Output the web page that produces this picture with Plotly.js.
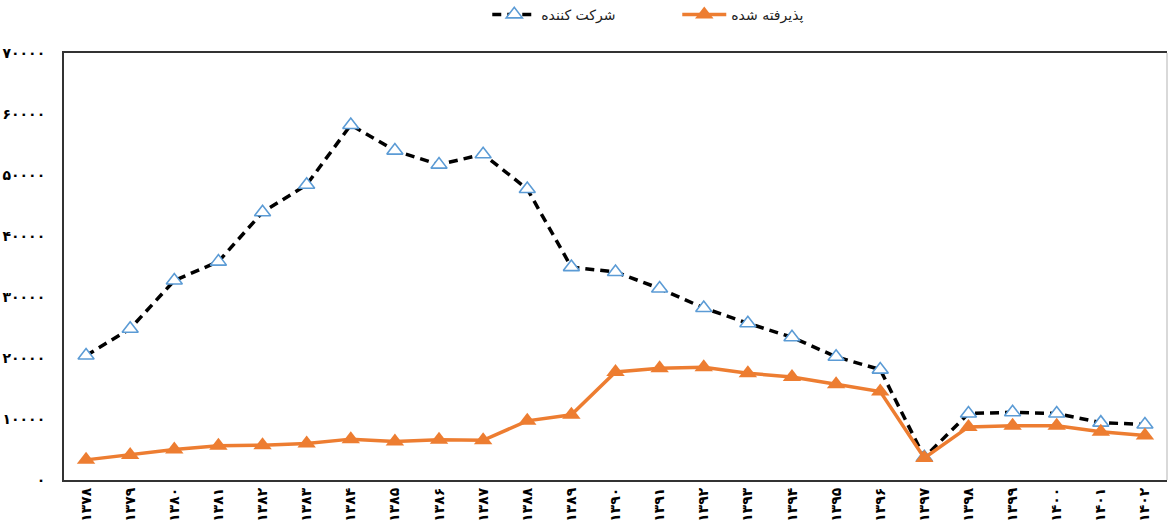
<!DOCTYPE html>
<html>
<head>
<meta charset="utf-8">
<script src="https://cdn.plot.ly/plotly-3.0.1.min.js"></script>
<style>html,body{margin:0;padding:0;background:#fff;}#chart{width:1169px;height:528px;}</style>
</head>
<body>
<div id="chart"></div>
<script>
// Years (Persian calendar) shown as tick labels
const years = ['۱۳۷۸','۱۳۷۹','۱۳۸۰','۱۳۸۱','۱۳۸۲','۱۳۸۳','۱۳۸۴','۱۳۸۵','۱۳۸۶','۱۳۸۷','۱۳۸۸','۱۳۸۹','۱۳۹۰','۱۳۹۱','۱۳۹۲','۱۳۹۳','۱۳۹۴','۱۳۹۵','۱۳۹۶','۱۳۹۷','۱۳۹۸','۱۳۹۹','۱۴۰۰','۱۴۰۱','۱۴۰۲'];
// Participants
const participants = [20400, 24800, 32700, 35800, 43900, 48400, 58200, 54000, 51700, 53400, 47700, 34900, 34100, 31400, 28200, 25700, 23400, 20200, 18100, 3700, 10900, 11100, 10900, 9400, 9100];
// Admitted
const admitted = [3300, 4100, 5000, 5600, 5700, 6000, 6700, 6300, 6600, 6500, 9700, 10700, 17700, 18300, 18500, 17500, 16900, 15700, 14500, 3600, 8700, 8900, 8900, 7900, 7300];
const seriesNames = ['شرکت کننده', 'پذیرفته شده'];
const yTickVals = [0, 10000, 20000, 30000, 40000, 50000, 60000, 70000];
const yTickText = ['۰', '۱۰۰۰۰', '۲۰۰۰۰', '۳۰۰۰۰', '۴۰۰۰۰', '۵۰۰۰۰', '۶۰۰۰۰', '۷۰۰۰۰'];

const idx = years.map((_, i) => i);
const font = 'DejaVu Sans, Noto Sans, sans-serif';

const traces = [
  {
    x: idx, y: participants, name: seriesNames[0], type: 'scatter', mode: 'lines+markers',
    line: {color: '#000000', width: 3.5, dash: '9px,6px'},
    marker: {symbol: 'triangle-up', size: 14, color: '#ffffff', line: {color: '#5B9BD5', width: 1.6}}
  },
  {
    x: idx, y: admitted, name: seriesNames[1], type: 'scatter', mode: 'lines+markers',
    line: {color: '#ED7D31', width: 3.5},
    marker: {symbol: 'triangle-up', size: 16, color: '#ED7D31', line: {width: 0}}
  }
];

const layout = {
  width: 1169, height: 528,
  margin: {l: 64, r: 2, t: 53, b: 48},
  paper_bgcolor: '#ffffff', plot_bgcolor: '#ffffff',
  font: {family: font, color: '#000000', size: 13},
  showlegend: true,
  legend: {
    orientation: 'h', xref: 'paper', x: 0.556, xanchor: 'center',
    yref: 'container', y: 0.972, yanchor: 'middle',
    font: {family: font, size: 14, color: '#222'}, entrywidth: 131, itemwidth: 44
  },
  xaxis: {
    type: 'linear', range: [-0.5, 24.5],
    tickmode: 'array', tickvals: idx, ticktext: years, tickangle: -90,
    tickfont: {family: font, size: 14, color: '#000', weight: 'bold'},
    showgrid: false, zeroline: false,
    showline: true, linecolor: '#333', linewidth: 2, mirror: true,
    ticks: '', fixedrange: true
  },
  yaxis: {
    range: [0, 70000], tickmode: 'array', tickvals: yTickVals, ticktext: yTickText,
    tickfont: {family: font, size: 14, color: '#000', weight: 'bold'},
    showgrid: false, zeroline: false,
    showline: true, linecolor: '#333', linewidth: 2,
    ticks: '', ticklabelstandoff: 14, fixedrange: true
  },
  shapes: [
    {type: 'line', xref: 'paper', yref: 'paper', x0: 1, x1: 1, y0: 0, y1: 1, line: {color: '#cccccc', width: 1.5}}
  ]
};

Plotly.newPlot('chart', traces, layout, {displayModeBar: false, staticPlot: true});
</script>
</body>
</html>
